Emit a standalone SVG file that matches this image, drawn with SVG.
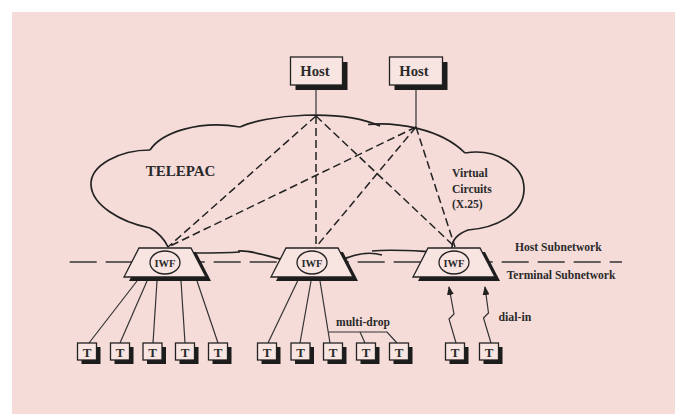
<svg xmlns="http://www.w3.org/2000/svg" width="675" height="414" viewBox="0 0 675 414">
<style>
.cloud{fill:none;stroke:#222;stroke-width:1.7}
.vc{fill:none;stroke:#222;stroke-width:1.5;stroke-dasharray:8 4}
.ln{fill:none;stroke:#333;stroke-width:1.2}
.sub{fill:none;stroke:#333;stroke-width:1.5;stroke-dasharray:27 9}
.sh{fill:#1c1c1c}
.box{fill:#f8e5e2;stroke:#222;stroke-width:1.3}
text{font-family:"Liberation Serif","Times New Roman",serif;font-weight:bold;fill:#2a2a2a}
.lbl{font-size:11.6px}
.t{font-size:13px;text-anchor:middle}
</style>
<defs>
<marker id="arr" markerUnits="userSpaceOnUse" markerWidth="9" markerHeight="7" refX="8" refY="3.5" orient="auto">
<path d="M0,0 L9,3.5 L0,7 z" fill="#222"/>
</marker>
</defs>
<rect x="0" y="0" width="675" height="414" fill="#ffffff"/>
<rect x="12" y="12" width="663" height="402" fill="#f5dcd9"/>

<g id="cloud">
<path class="cloud" d="M150,150 C162,132 200,120 240,127"/>
<path class="cloud" d="M240,127 C265,115 340,108 380,126"/>
<path class="cloud" d="M368,124.5 C395,122 440,128 465,153"/>
<path class="cloud" d="M465,153 C495,148 525,165 524,190 C523,215 495,228 468,230 C460,233 452,238 452,248"/>
<path class="cloud" d="M436,252 C415,251 392,249 372,251"/>
<path class="cloud" d="M382,255 C368,251 352,255 340,261"/>
<path class="cloud" d="M290,261 C270,258 255,250 238,251"/>
<path class="cloud" d="M240,252 C225,253 210,253 195,253"/>
<path class="cloud" d="M168,247 C165,240 158,232 150,228"/>
<path class="cloud" d="M150,228 C120,222 92,205 91,185 C90,165 120,150 150,150"/>
<text x="145.7" y="176" style="font-size:15px">TELEPAC</text>
<text class="lbl" x="452" y="176.7">Virtual</text>
<text class="lbl" x="452" y="192.7">Circuits</text>
<text class="lbl" x="452" y="207.5">(X.25)</text>
</g>

<g id="subnet-boundary">
<line class="sub" x1="69.7" y1="262" x2="622" y2="262"/>
<text class="lbl" x="515" y="251">Host Subnetwork</text>
<text class="lbl" x="506.7" y="279">Terminal Subnetwork</text>
</g>

<g id="connectors">
<line class="ln" x1="316" y1="90" x2="316" y2="116"/>
<line class="ln" x1="416" y1="90" x2="416" y2="127"/>
<line class="vc" x1="316" y1="116" x2="168" y2="247"/>
<line class="vc" x1="316" y1="116" x2="316" y2="247"/>
<line class="vc" x1="316" y1="116" x2="455" y2="247"/>
<line class="vc" x1="416" y1="127" x2="168" y2="247"/>
<line class="vc" x1="416" y1="127" x2="316" y2="247"/>
<line class="vc" x1="416" y1="127" x2="455" y2="247"/>
<line class="ln" x1="137" y1="281" x2="89" y2="343"/>
<line class="ln" x1="147" y1="281" x2="120" y2="343"/>
<line class="ln" x1="157" y1="281" x2="153" y2="343"/>
<line class="ln" x1="181" y1="281" x2="185" y2="343"/>
<line class="ln" x1="197" y1="281" x2="218" y2="343"/>
<line class="ln" x1="297.6" y1="281" x2="268" y2="343"/>
<line class="ln" x1="311" y1="281" x2="300" y2="343"/>
<line class="ln" x1="320" y1="281" x2="330" y2="343"/>
<polyline class="ln" points="328.5,332 387,332 397,343"/>
<line class="ln" x1="360" y1="332" x2="365" y2="343"/>
<path class="ln" d="M456,343 L449,319 L454,314 L449,287" marker-end="url(#arr)"/>
<path class="ln" d="M491,343 L483.5,318 L488.5,313 L485,287" marker-end="url(#arr)"/>
<text class="lbl" x="336" y="326">multi-drop</text>
<text class="lbl" x="498.5" y="321" style="font-size:11.8px">dial-in</text>
</g>

<g id="host1">
<rect class="sh" x="295.5" y="62" width="52" height="28"/>
<rect class="box" x="290.5" y="57" width="52" height="28"/>
<text x="315" y="76" style="font-size:14.7px;text-anchor:middle">Host</text>
</g>
<g id="host2">
<rect class="sh" x="394.5" y="62" width="53" height="28"/>
<rect class="box" x="389.5" y="57" width="53" height="28"/>
<text x="414" y="76" style="font-size:14.7px;text-anchor:middle">Host</text>
</g>

<g id="iwf1">
<polygon class="sh" points="144,252 196,252 211,281 129,281"/>
<polygon class="box" points="139,248 191,248 206,277 124,277"/>
<ellipse cx="165" cy="262.5" rx="15" ry="11.5" fill="none" stroke="#222" stroke-width="1.3"/>
<text x="165" y="266.5" style="font-size:10.5px;text-anchor:middle">IWF</text>
</g>
<g id="iwf2">
<polygon class="sh" points="291,252 343,252 358,281 276,281"/>
<polygon class="box" points="286,248 338,248 353,277 271,277"/>
<ellipse cx="312" cy="262.5" rx="15" ry="11.5" fill="none" stroke="#222" stroke-width="1.3"/>
<text x="312" y="266.5" style="font-size:10.5px;text-anchor:middle">IWF</text>
</g>
<g id="iwf3">
<polygon class="sh" points="433,252 485,252 500,281 418,281"/>
<polygon class="box" points="428,248 480,248 495,277 413,277"/>
<ellipse cx="454" cy="262.5" rx="15" ry="11.5" fill="none" stroke="#222" stroke-width="1.3"/>
<text x="454" y="266.5" style="font-size:10.5px;text-anchor:middle">IWF</text>
</g>

<g id="t1"><rect class="sh" x="81.5" y="347" width="19" height="17"/><rect class="box" x="77.5" y="343" width="19" height="17"/><text class="t" x="87" y="356.5">T</text></g>
<g id="t2"><rect class="sh" x="114.5" y="347" width="19" height="17"/><rect class="box" x="110.5" y="343" width="19" height="17"/><text class="t" x="120" y="356.5">T</text></g>
<g id="t3"><rect class="sh" x="147" y="347" width="19" height="17"/><rect class="box" x="143" y="343" width="19" height="17"/><text class="t" x="152.5" y="356.5">T</text></g>
<g id="t4"><rect class="sh" x="179.5" y="347" width="19" height="17"/><rect class="box" x="175.5" y="343" width="19" height="17"/><text class="t" x="185" y="356.5">T</text></g>
<g id="t5"><rect class="sh" x="212.5" y="347" width="19" height="17"/><rect class="box" x="208.5" y="343" width="19" height="17"/><text class="t" x="218" y="356.5">T</text></g>
<g id="t6"><rect class="sh" x="261.5" y="347" width="19" height="17"/><rect class="box" x="257.5" y="343" width="19" height="17"/><text class="t" x="267" y="356.5">T</text></g>
<g id="t7"><rect class="sh" x="295" y="347" width="19" height="17"/><rect class="box" x="291" y="343" width="19" height="17"/><text class="t" x="300.5" y="356.5">T</text></g>
<g id="t8"><rect class="sh" x="327.5" y="347" width="19" height="17"/><rect class="box" x="323.5" y="343" width="19" height="17"/><text class="t" x="333" y="356.5">T</text></g>
<g id="t9"><rect class="sh" x="360.5" y="347" width="19" height="17"/><rect class="box" x="356.5" y="343" width="19" height="17"/><text class="t" x="366" y="356.5">T</text></g>
<g id="t10"><rect class="sh" x="393.5" y="347" width="19" height="17"/><rect class="box" x="389.5" y="343" width="19" height="17"/><text class="t" x="399" y="356.5">T</text></g>
<g id="t11"><rect class="sh" x="449.5" y="347" width="19" height="17"/><rect class="box" x="445.5" y="343" width="19" height="17"/><text class="t" x="455" y="356.5">T</text></g>
<g id="t12"><rect class="sh" x="483.5" y="347" width="19" height="17"/><rect class="box" x="479.5" y="343" width="19" height="17"/><text class="t" x="489" y="356.5">T</text></g>
</svg>
